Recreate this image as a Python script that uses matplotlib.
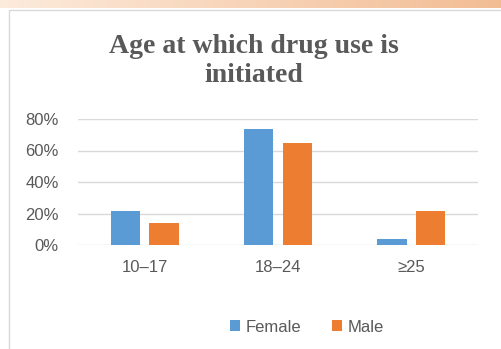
import numpy as np
import matplotlib.pyplot as plt
from matplotlib.patches import Rectangle

plt.rcParams['font.family'] = ['Liberation Sans', 'DejaVu Sans']

# =========================================================
# data
# =========================================================
categories = ["10\u201317", "18\u201324", "\u226525"]
female = [21.6, 73.5, 3.8]
male = [13.8, 64.6, 21.6]
yticks = [0, 20, 40, 60, 80]

blue = "#5b9bd5"
orange = "#ed7d31"
grey_text = "#595959"
grid_col = "#d9d9d9"

fig = plt.figure(figsize=(5.02, 3.49), dpi=100)
W, H = 502, 349

# top gradient strip
band = fig.add_axes([0, 1 - 8 / H, 1, 8 / H])
grad = np.linspace(0, 1, 256)
c0 = np.array([0.99, 0.92, 0.86])
c1 = np.array([0.95, 0.74, 0.58])
img = c0[None, :] + (c1 - c0)[None, :] * grad[:, None]
band.imshow(img[None, :, :], aspect="auto", extent=[0, 1, 0, 1])
band.axis("off")

# chart frame
fig.patches.append(Rectangle((9 / W, -0.05), 1.2, 1 - 10 / H + 0.05,
                             transform=fig.transFigure, fill=False,
                             edgecolor="#d9d9d9", linewidth=1.0))

# plot area
ax = fig.add_axes([78 / W, 1 - 245 / H, 400 / W, 126 / H])
x = np.arange(len(categories))
bw = 0.22
off = 0.145
ax.bar(x - off, female, bw, color=blue, label="Female", zorder=3)
ax.bar(x + off, male, bw, color=orange, label="Male", zorder=3)

ax.set_xlim(-0.5, 2.5)
ax.set_ylim(0, 80)
ax.set_yticks(yticks)
ax.set_yticklabels([f"{v}%" for v in yticks])
ax.set_xticks(x)
ax.set_xticklabels(categories)
ax.tick_params(length=0, colors=grey_text, labelsize=12)
ax.tick_params(axis="x", pad=11)
ax.tick_params(axis="y", pad=14)
ax.grid(axis="y", color=grid_col, linewidth=1.0, zorder=0)
for s in ax.spines.values():
    s.set_visible(False)

fig.text(254 / W, 1 - 61 / H, "Age at which drug use is\ninitiated",
         ha="center", va="center", fontsize=20, fontweight="bold",
         color=grey_text, family=["Liberation Serif"], linespacing=1.2)

leg = fig.legend(loc="center", bbox_to_anchor=(307 / W, 1 - 327 / H), ncol=2,
                 frameon=False, fontsize=12, handlelength=0.6, handleheight=0.6,
                 handletextpad=0.35, columnspacing=1.8)
for t in leg.get_texts():
    t.set_color(grey_text)

fig.savefig("out.png", dpi=100)
